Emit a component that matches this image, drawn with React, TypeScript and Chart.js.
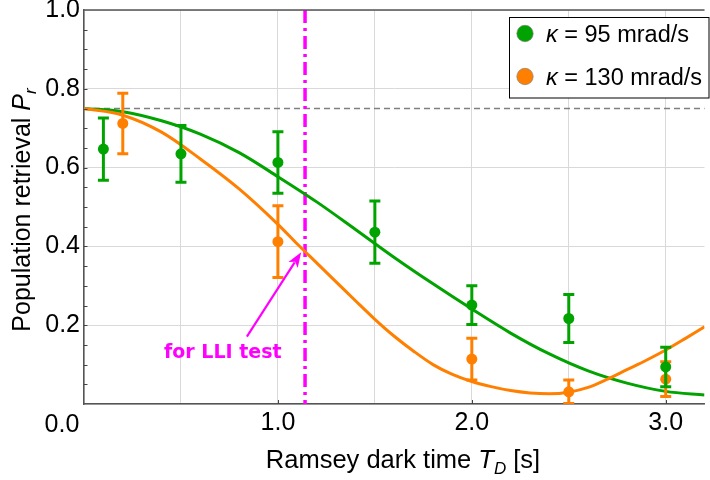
import React, { useEffect, useRef } from "react";
import { Chart, registerables } from "chart.js";

Chart.register(...registerables);

// ---- data ----
const greenT = [0.1, 0.5, 1.0, 1.5, 2.0, 2.5, 3.0];
const greenP = [0.647, 0.635, 0.613, 0.436, 0.251, 0.217, 0.094];
const greenErr = [0.079, 0.072, 0.078, 0.079, 0.049, 0.061, 0.05];

const orangeT = [0.2, 1.0, 2.0, 2.5, 3.0];
const orangeP = [0.712, 0.412, 0.114, 0.031, 0.063];
const orangeErr = [0.077, 0.091, 0.053, 0.03, 0.044];

const greenFitT = [0, 0.2, 0.4, 0.6, 0.8, 1.0, 1.2, 1.4, 1.6, 1.8, 2.0, 2.2, 2.4, 2.6, 2.8, 3.0, 3.2];
const greenFit = [0.75, 0.742, 0.719, 0.685, 0.638, 0.577, 0.513, 0.443, 0.372, 0.305, 0.241, 0.18, 0.127, 0.084, 0.053, 0.032, 0.023];
const orangeFitT = [0, 0.2, 0.4, 0.6, 0.8, 1.0, 1.1, 1.2, 1.3, 1.4, 1.5, 1.6, 1.7, 1.8, 1.9, 2.0, 2.1, 2.2, 2.3, 2.4, 2.5, 2.6, 2.7, 2.8, 2.9, 3.0, 3.1, 3.2];
const orangeFit = [0.75, 0.733, 0.69, 0.622, 0.546, 0.456, 0.406, 0.358, 0.31, 0.262, 0.215, 0.172, 0.134, 0.1, 0.075, 0.057, 0.044, 0.034, 0.028, 0.026, 0.03, 0.042, 0.063, 0.087, 0.111, 0.137, 0.166, 0.196];

const seriesNames = ["95 mrad/s", "130 mrad/s"];
const xTickLabels = ["0.0", "1.0", "2.0", "3.0"];
const referenceLevel = 0.75;
const markerT = 1.14;
const annotationText = "for LLI test";
const arrowFrom = [0.84, 0.171];
const arrowTo = [1.12, 0.385];
const textAt = [0.716, 0.117];

const GREEN = "rgb(0,163,0)";
const ORANGE = "rgb(255,128,0)";
const MAGENTA = "#ff00ff";
const FONT = "'Liberation Sans', Arial, sans-serif";

const toXY = (xs: number[], ys: number[]) => xs.map((x, i) => ({ x, y: ys[i] }));

const errs = [greenErr, orangeErr];
const errColors = [GREEN, ORANGE];

function drawSegments(ctx: CanvasRenderingContext2D, parts: { t: string; font: string; dy: number }[], x: number, y: number) {
  let total = 0;
  for (const p of parts) {
    ctx.font = p.font;
    total += ctx.measureText(p.t).width;
  }
  let cx = x - total / 2;
  for (const p of parts) {
    ctx.font = p.font;
    ctx.fillText(p.t, cx, y + p.dy);
    cx += ctx.measureText(p.t).width;
  }
}

const overlay = {
  id: "overlay",
  beforeDatasetsDraw(chart: any) {
    const { ctx, chartArea: a, scales } = chart;
    const xs = scales.x;
    const ys = scales.y;
    ctx.save();
    ctx.strokeStyle = "#808080";
    ctx.lineWidth = 1.5;
    ctx.setLineDash([6, 4]);
    const yl = ys.getPixelForValue(referenceLevel);
    ctx.beginPath();
    ctx.moveTo(a.left, yl);
    ctx.lineTo(a.right, yl);
    ctx.stroke();
    ctx.strokeStyle = MAGENTA;
    ctx.lineWidth = 3.5;
    ctx.setLineDash([13, 5, 3, 5]);
    const xm = xs.getPixelForValue(markerT);
    ctx.beginPath();
    ctx.moveTo(xm, a.top);
    ctx.lineTo(xm, a.bottom);
    ctx.stroke();
    ctx.restore();
  },
  afterDatasetDraw(chart: any, args: any) {
    const i = args.index;
    if (i > 1) return;
    const { ctx, chartArea: a, scales } = chart;
    const xs = scales.x;
    const ys = scales.y;
    const ds = chart.data.datasets[i].data;
    ctx.save();
    ctx.beginPath();
    ctx.rect(a.left, a.top, a.right - a.left, a.bottom - a.top);
    ctx.clip();
    ctx.strokeStyle = errColors[i];
    ctx.lineWidth = 3;
    ds.forEach((pt: any, k: number) => {
      const px = xs.getPixelForValue(pt.x);
      const y1 = ys.getPixelForValue(pt.y + errs[i][k]);
      const y2 = ys.getPixelForValue(pt.y - errs[i][k]);
      ctx.beginPath();
      ctx.moveTo(px, y1);
      ctx.lineTo(px, y2);
      ctx.moveTo(px - 5.5, y1);
      ctx.lineTo(px + 5.5, y1);
      ctx.moveTo(px - 5.5, y2);
      ctx.lineTo(px + 5.5, y2);
      ctx.stroke();
    });
    ctx.restore();
  },
  afterDraw(chart: any) {
    const { ctx, chartArea: a, scales } = chart;
    const xs = scales.x;
    const ys = scales.y;
    ctx.save();
    ctx.strokeStyle = "#555";
    ctx.lineWidth = 1.5;
    ctx.beginPath();
    ctx.moveTo(a.left, a.top);
    ctx.lineTo(a.right, a.top);
    ctx.stroke();
    ctx.lineWidth = 1;
    ctx.strokeStyle = "#444";
    for (let k = 1; k < 20; k++) {
      const py = Math.round(ys.getPixelForValue(k * 0.05)) + 0.5;
      ctx.beginPath();
      ctx.moveTo(a.left, py);
      ctx.lineTo(a.left + 3.5, py);
      ctx.stroke();
    }
    for (let k = 1; k <= 3; k++) {
      const px = Math.round(xs.getPixelForValue(k)) + 0.5;
      ctx.beginPath();
      ctx.moveTo(px, a.bottom);
      ctx.lineTo(px, a.bottom - 4);
      ctx.stroke();
    }
    ctx.fillStyle = "#000";
    ctx.font = `25px ${FONT}`;
    ctx.textAlign = "center";
    ctx.textBaseline = "alphabetic";
    ctx.fillText(xTickLabels[0], xs.getPixelForValue(0) - 22, 432);

    // arrow
    const ax0 = xs.getPixelForValue(arrowFrom[0]);
    const ay0 = ys.getPixelForValue(arrowFrom[1]);
    const ax1 = xs.getPixelForValue(arrowTo[0]);
    const ay1 = ys.getPixelForValue(arrowTo[1]);
    const ang = Math.atan2(ay1 - ay0, ax1 - ax0);
    const hl = 15;
    const hw = 5.5;
    const c = Math.cos(ang);
    const s = Math.sin(ang);
    ctx.strokeStyle = MAGENTA;
    ctx.fillStyle = MAGENTA;
    ctx.lineWidth = 2.2;
    ctx.beginPath();
    ctx.moveTo(ax0, ay0);
    ctx.lineTo(ax1 - hl * 0.8 * c, ay1 - hl * 0.8 * s);
    ctx.stroke();
    ctx.beginPath();
    ctx.moveTo(ax1, ay1);
    ctx.lineTo(ax1 - hl * c + hw * s, ay1 - hl * s - hw * c);
    ctx.lineTo(ax1 - hl * 0.75 * c, ay1 - hl * 0.75 * s);
    ctx.lineTo(ax1 - hl * c - hw * s, ay1 - hl * s + hw * c);
    ctx.closePath();
    ctx.fill();
    ctx.font = "bold 19px 'DejaVu Sans', sans-serif";
    ctx.textAlign = "center";
    ctx.fillText(annotationText, xs.getPixelForValue(textAt[0]), ys.getPixelForValue(textAt[1]));

    // axis titles
    ctx.fillStyle = "#000";
    ctx.textAlign = "left";
    drawSegments(
      ctx,
      [
        { t: "Ramsey dark time ", font: `25.5px ${FONT}`, dy: 0 },
        { t: "T", font: `italic 25.5px ${FONT}`, dy: 0 },
        { t: "D", font: `italic 17px ${FONT}`, dy: 6 },
        { t: " [s]", font: `25.5px ${FONT}`, dy: 0 },
      ],
      403,
      468
    );
    ctx.save();
    ctx.translate(30, (a.top + a.bottom) / 2 + 3);
    ctx.rotate(-Math.PI / 2);
    drawSegments(
      ctx,
      [
        { t: "Population retrieval ", font: `25px ${FONT}`, dy: 0 },
        { t: "P", font: `italic 25px ${FONT}`, dy: 0 },
        { t: "r", font: `italic 17px ${FONT}`, dy: 6 },
      ],
      0,
      0
    );
    ctx.restore();

    // legend
    ctx.fillStyle = "#fff";
    ctx.fillRect(509, 17, 200, 81);
    ctx.strokeStyle = "#000";
    ctx.lineWidth = 1;
    ctx.strokeRect(509.5, 17.5, 199.5, 80.5);
    const rows = [33.5, 76.5];
    const cols = [GREEN, ORANGE];
    rows.forEach((ry, k) => {
      ctx.beginPath();
      ctx.arc(525, ry, 8.2, 0, Math.PI * 2);
      ctx.fillStyle = cols[k];
      ctx.fill();
      ctx.strokeStyle = "rgba(120,120,120,0.6)";
      ctx.lineWidth = 1;
      ctx.stroke();
      ctx.fillStyle = "#000";
      ctx.textAlign = "left";
      ctx.font = `italic 23.5px ${FONT}`;
      ctx.fillText("κ", 546, ry + 8.5);
      const w = ctx.measureText("κ").width;
      ctx.font = `23.5px ${FONT}`;
      ctx.fillText(" = " + seriesNames[k], 546 + w, ry + 8.5);
    });
    ctx.restore();
  },
};

export default function App() {
  const ref = useRef<HTMLCanvasElement>(null);
  useEffect(() => {
    const chart = new Chart(ref.current as HTMLCanvasElement, {
      type: "scatter",
      data: {
        datasets: [
          {
            label: seriesNames[0],
            data: toXY(greenT, greenP),
            backgroundColor: GREEN,
            borderColor: GREEN,
            pointRadius: 5.5,
            borderWidth: 0,
            order: 0,
          },
          {
            label: seriesNames[1],
            data: toXY(orangeT, orangeP),
            backgroundColor: ORANGE,
            borderColor: ORANGE,
            pointRadius: 5.5,
            borderWidth: 0,
            order: 1,
          },
          {
            type: "line",
            label: "fit " + seriesNames[0],
            data: toXY(greenFitT, greenFit),
            borderColor: GREEN,
            borderWidth: 3,
            pointRadius: 0,
            cubicInterpolationMode: "monotone",
            fill: false,
            order: 3,
          } as any,
          {
            type: "line",
            label: "fit " + seriesNames[1],
            data: toXY(orangeFitT, orangeFit),
            borderColor: ORANGE,
            borderWidth: 3,
            pointRadius: 0,
            cubicInterpolationMode: "monotone",
            fill: false,
            order: 2,
          } as any,
        ],
      },
      options: {
        responsive: false,
        animation: false,
        layout: { padding: { top: 10, right: 0, left: 0, bottom: 0 } },
        plugins: { legend: { display: false }, tooltip: { enabled: false } },
        scales: {
          x: {
            type: "linear",
            min: 0,
            max: 3.2,
            ticks: {
              stepSize: 0.5,
              includeBounds: false,
              autoSkip: false,
              maxRotation: 0,
              padding: 4,
              color: "#000",
              font: { family: FONT, size: 25 },
              callback: (v: any) => {
                const n = Number(v);
                if (n > 0 && Math.abs(n - Math.round(n)) < 1e-6) return xTickLabels[Math.round(n)];
                return "";
              },
            },
            grid: { color: "#d9d9d9", lineWidth: 1, drawTicks: false },
            border: { color: "#555", width: 1.5 },
            afterFit: (s: any) => {
              s.height = 76;
              s.paddingLeft = 0;
              s.paddingRight = 0;
            },
          },
          y: {
            type: "linear",
            min: 0,
            max: 1,
            ticks: {
              stepSize: 0.2,
              padding: 4,
              color: "#000",
              font: { family: FONT, size: 25 },
              callback: (v: any) => (Number(v) > 0.01 ? Number(v).toFixed(1) : ""),
            },
            grid: { color: "#d9d9d9", lineWidth: 1, drawTicks: false },
            border: { color: "#555", width: 1.5 },
            afterFit: (s: any) => {
              s.width = 84;
              s.paddingTop = 0;
              s.paddingBottom = 0;
            },
          },
        },
      },
      plugins: [overlay],
    });
    return () => chart.destroy();
  }, []);
  return (
    <div style={{ position: "fixed", left: 0, top: 0, width: 710, height: 480, background: "#fff" }}>
      <canvas ref={ref} width={710} height={480} style={{ display: "block" }} />
    </div>
  );
}
